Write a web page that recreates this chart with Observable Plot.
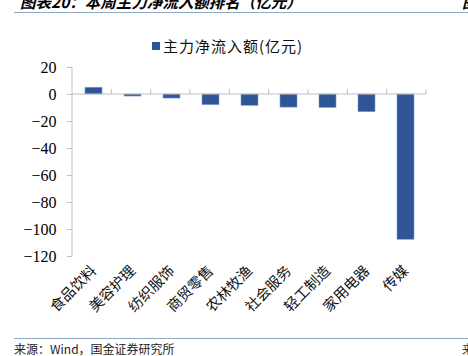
<!DOCTYPE html>
<html>
<head>
<meta charset="utf-8">
<script src="https://cdn.jsdelivr.net/npm/d3@7"></script>
<script src="https://cdn.jsdelivr.net/npm/@observablehq/plot@0.6"></script>
<style>
  html, body { margin: 0; padding: 0; background: #fff; width: 468px; height: 356px; overflow: hidden; }
  #wrap { position: relative; width: 468px; height: 356px; }
  #chart { position: absolute; left: 0; top: 0; }
  .abs { position: absolute; white-space: nowrap; }
  #title { left: 20px; top: -7px; font: italic bold 15.5px/16px "Noto Sans CJK SC", sans-serif; color: #000; }
  #titleR { left: 462px; top: -7px; font: italic bold 16px/16px "Noto Sans CJK SC", sans-serif; }
  .hline { position: absolute; left: 14px; width: 454px; height: 0; border-top: 1.2px solid #8fa9c4; }
  #legend { left: 152px; top: 36px; font: 15px/20px "Noto Sans CJK SC", sans-serif; color: #111; display: flex; align-items: center; }
  #legend .sw { display: inline-block; width: 8px; height: 8px; background: #2F5597; margin-right: 3px; }
  #legend .t { letter-spacing: 1px; }
  #source { left: 14px; top: 343px; font: 12px/12px "Noto Sans CJK SC", sans-serif; color: #222; }
  #sourceR { left: 462px; top: 343px; font: 12px/12px "Noto Sans CJK SC", sans-serif; color: #222; }
</style>
</head>
<body>
<div id="wrap">
  <div id="chart"></div>
  <div class="abs" id="title">图表20：本周主力净流入额排名（亿元）</div>
  <div class="abs" id="titleR">图</div>
  <div class="hline" style="top:12px"></div>
  <div class="abs" id="legend"><span class="sw"></span><span class="t">主力净流入额(亿元)</span></div>
  <div class="hline" style="top:338px"></div>
  <div class="abs" id="source">来源：Wind，国金证券研究所</div>
  <div class="abs" id="sourceR">来</div>
</div>
<script>
const categories = ["食品饮料", "美容护理", "纺织服饰", "商贸零售", "农林牧渔", "社会服务", "轻工制造", "家用电器", "传媒"];
const values = [5.0, -1.5, -3.0, -7.9, -8.4, -9.7, -9.9, -13.1, -107.6];
const yTicks = [20, 0, -20, -40, -60, -80, -100, -120];

const data = categories.map((name, i) => ({name, value: values[i]}));
const axisGray = "#bfbfbf";

// y-axis line, zero line and category-boundary ticks, placed from the plot's layout and y scale
function frameMarks(index, scales, values, dimensions) {
  const y = scales.y;
  const {width, marginLeft, marginRight} = dimensions;
  const n = categories.length;
  const step = (width - marginLeft - marginRight) / n;
  const y0 = y(0);
  const g = d3.create("svg:g").attr("stroke", axisGray).attr("stroke-width", 1).attr("fill", "none");
  const bounds = d3.range(n + 1).map(i => marginLeft + i * step);
  g.append("line").attr("x1", bounds[0]).attr("x2", bounds[n]).attr("y1", y0).attr("y2", y0);
  bounds.slice(1).forEach(bx => {
    g.append("line").attr("x1", bx).attr("x2", bx).attr("y1", y0).attr("y2", y0 - 5);
  });
  g.append("line").attr("x1", bounds[0]).attr("x2", bounds[0])
    .attr("y1", y(yTicks[0])).attr("y2", y(yTicks[yTicks.length - 1]));
  return g.node();
}

const chart = Plot.plot({
  width: 468,
  height: 356,
  marginTop: 67,
  marginBottom: 100,
  marginLeft: 72,
  marginRight: 42,
  style: { background: "transparent", fontFamily: "'Liberation Serif', 'Noto Sans CJK SC', serif", color: "#000" },
  x: { domain: categories, paddingInner: 0.57, paddingOuter: 0.285, label: null },
  y: { domain: [-120, 20], label: null },
  marks: [
    Plot.barY(data, { x: "name", y: "value", fill: "#2F5597", stroke: "#7f9bcc", strokeWidth: 0.6 }),
    frameMarks,
    Plot.axisY({ ticks: yTicks, tickSize: 5, tickPadding: 11, stroke: axisGray, fill: "#000", fontSize: 16, fontFamily: "'Liberation Serif', serif", label: null }),
    Plot.axisX({ tickSize: 0, tickPadding: 12, tickRotate: -45, fontSize: 14.5, fontFamily: "'Noto Sans CJK SC', sans-serif", fill: "#111", label: null })
  ]
});
document.getElementById("chart").appendChild(chart);
</script>
</body>
</html>
